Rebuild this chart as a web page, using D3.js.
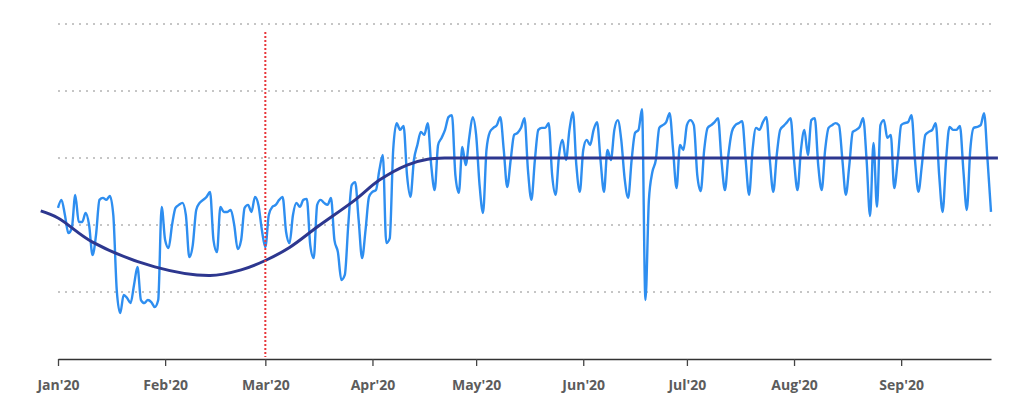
<!DOCTYPE html>
<html>
<head>
<meta charset="utf-8">
<script src="https://cdn.jsdelivr.net/npm/d3@7"></script>
<style>
  body { margin: 0; background: #fff; }
  .axis text { font-family: "Open Sans", sans-serif; font-weight: 700; font-size: 14px; fill: #5c5c5c; }
</style>
</head>
<body>
<div id="chart"></div>
<script>
// daily values, one array per month (Jan 1 - Sep 27, 2020)
let janValues = [45.1, 47.5, 43.0, 37.6, 39.1, 49.0, 40.9, 40.9, 43.6, 40.0, 31.0, 37.0, 47.5, 48.1, 47.5, 48.7, 43.0, 20.6, 13.7, 19.1, 18.2, 16.7, 22.1, 27.5, 17.6, 16.7, 17.6, 17.0, 15.5, 17.6, 45.4];
let febValues = [35.5, 33.1, 40.0, 45.1, 46.0, 46.6, 43.0, 30.4, 34.0, 44.5, 46.6, 47.5, 48.4, 49.9, 35.5, 31.9, 45.4, 43.9, 43.9, 44.5, 40.0, 32.8, 35.5, 45.1, 46.0, 43.9, 48.4, 46.0, 38.5];
let marValues = [33.4, 43.0, 45.4, 46.0, 47.5, 48.4, 38.0, 34.6, 43.0, 46.6, 45.4, 47.5, 47.8, 34.0, 30.1, 46.0, 47.5, 46.6, 46.0, 48.1, 35.5, 31.9, 23.6, 25.1, 40.0, 51.9, 52.8, 41.5, 30.1, 38.5, 48.4];
let aprValues = [49.9, 50.4, 56.4, 60.9, 34.6, 36.0, 62.4, 70.4, 68.4, 69.6, 54.9, 48.4, 59.4, 63.9, 67.8, 66.9, 70.4, 57.9, 50.4, 63.9, 66.0, 68.4, 72.2, 72.8, 54.9, 49.6, 63.3, 57.9, 66.0, 72.2];
let mayValues = [66.9, 51.9, 43.6, 62.4, 67.8, 69.0, 69.8, 72.2, 62.4, 51.3, 59.4, 66.9, 67.5, 69.0, 71.9, 56.4, 47.5, 59.4, 68.4, 69.0, 69.0, 70.4, 54.9, 49.0, 60.9, 65.4, 59.4, 68.4, 73.7, 57.9, 49.9];
let junValues = [62.4, 65.4, 63.9, 68.4, 70.7, 59.4, 49.9, 62.4, 59.4, 68.4, 71.3, 65.4, 53.7, 48.1, 59.4, 67.5, 68.4, 74.6, 17.6, 47.5, 55.8, 59.4, 69.0, 69.8, 70.7, 73.4, 62.4, 51.0, 63.9, 62.4];
let julValues = [69.8, 71.3, 69.8, 54.9, 50.1, 62.4, 69.0, 69.8, 70.7, 71.9, 59.4, 50.4, 60.9, 67.8, 69.8, 70.4, 71.0, 59.4, 49.0, 62.4, 69.0, 68.4, 70.7, 72.2, 59.4, 49.9, 60.9, 68.4, 69.6, 70.7, 71.9];
let augValues = [59.4, 50.4, 62.4, 68.4, 60.9, 71.3, 71.9, 57.9, 50.4, 62.4, 69.0, 69.8, 70.4, 69.8, 59.4, 49.0, 57.9, 67.8, 68.4, 69.3, 71.9, 59.4, 42.7, 64.5, 45.4, 69.8, 71.3, 66.0, 66.9, 51.0, 59.4];
let sepValues = [69.8, 70.4, 70.7, 72.8, 59.4, 49.9, 57.9, 66.9, 67.8, 68.4, 70.4, 54.9, 43.9, 59.4, 69.3, 68.4, 68.4, 69.6, 56.4, 44.5, 62.4, 69.0, 69.3, 69.8, 73.4, 59.4, 43.9];

// smoothed trend
let trendDates = ["2019-12-27", "2020-01-01", "2020-01-11", "2020-01-29", "2020-02-14", "2020-02-23", "2020-03-01", "2020-03-08", "2020-03-16", "2020-03-27", "2020-04-03", "2020-04-11", "2020-04-17", "2020-04-23", "2020-05-01", "2020-09-29"];
let trendValues = [44.2, 42.1, 34.9, 27.5, 24.9, 26.6, 29.4, 33.3, 39.4, 47.5, 53.4, 57.9, 59.6, 60, 60, 60];

let monthTicks = ["2020-01-01", "2020-02-01", "2020-03-01", "2020-04-01", "2020-05-01", "2020-06-01", "2020-07-01", "2020-08-01", "2020-09-01"];
let gridValues = [20, 40, 60, 80, 100];
let markerDate = "2020-03-01";

let startDate = "2020-01-01";
let endDate = "2020-09-27";

// SVG setup
let width = 1024, height = 418;
let margin = {"top": 24, "bottom": 59, "left": 58, "right": 33};

let parse = d3.timeParse("%Y-%m-%d");
let start = parse(startDate);

let allValues = [].concat(janValues, febValues, marValues, aprValues, mayValues, junValues, julValues, augValues, sepValues);
let daily = allValues.map((v, i) => ({date: d3.timeDay.offset(start, i), value: v}));
let trend = trendDates.map((d, i) => ({date: parse(d), value: trendValues[i]}));

let x = d3.scaleTime()
    .domain([start, parse(endDate)])
    .range([margin.left, width - margin.right]);
let y = d3.scaleLinear()
    .domain([0, 100])
    .range([height - margin.bottom, margin.top]);

let svg = d3.select("#chart").append("svg")
    .attr("width", width)
    .attr("height", height);

// grid lines
svg.append("g").selectAll("line")
    .data(gridValues)
    .enter().append("line")
    .attr("x1", margin.left)
    .attr("x2", width - margin.right)
    .attr("y1", d => y(d))
    .attr("y2", d => y(d))
    .attr("stroke", "#8c8c8c")
    .attr("stroke-width", 1)
    .attr("stroke-dasharray", "2,5");

// x axis
let xAxis = d3.axisBottom(x)
    .tickValues(monthTicks.map(parse))
    .tickFormat(d3.timeFormat("%b'%y"))
    .tickSize(7)
    .tickSizeOuter(0)
    .tickPadding(14);

let axisG = svg.append("g").attr("class", "axis")
    .attr("transform", "translate(0," + y(0) + ")")
    .call(xAxis);
axisG.select(".domain").attr("stroke", "#333").attr("stroke-width", 1.6);
axisG.selectAll(".tick line").attr("stroke", "#444").attr("stroke-width", 1.3);

// daily series
let line = d3.line()
    .x(d => x(d.date))
    .y(d => y(d.value))
    .curve(d3.curveMonotoneX);

let trendLine = d3.line()
    .x(d => x(d.date))
    .y(d => y(d.value))
    .curve(d3.curveCatmullRom.alpha(0.5));

svg.append("path")
    .datum(daily)
    .attr("fill", "none")
    .attr("stroke", "#2e8ef0")
    .attr("stroke-width", 2.4)
    .attr("stroke-linejoin", "round")
    .attr("d", line);

// trend
svg.append("path")
    .datum(trend)
    .attr("fill", "none")
    .attr("stroke", "#2d378f")
    .attr("stroke-width", 3)
    .attr("d", trendLine);

// marker line
svg.append("line")
    .attr("x1", x(parse(markerDate)))
    .attr("x2", x(parse(markerDate)))
    .attr("y1", 32)
    .attr("y2", y(0) - 2)
    .attr("stroke", "#e8363a")
    .attr("stroke-width", 2)
    .attr("stroke-dasharray", "2,2");
</script>
</body>
</html>
